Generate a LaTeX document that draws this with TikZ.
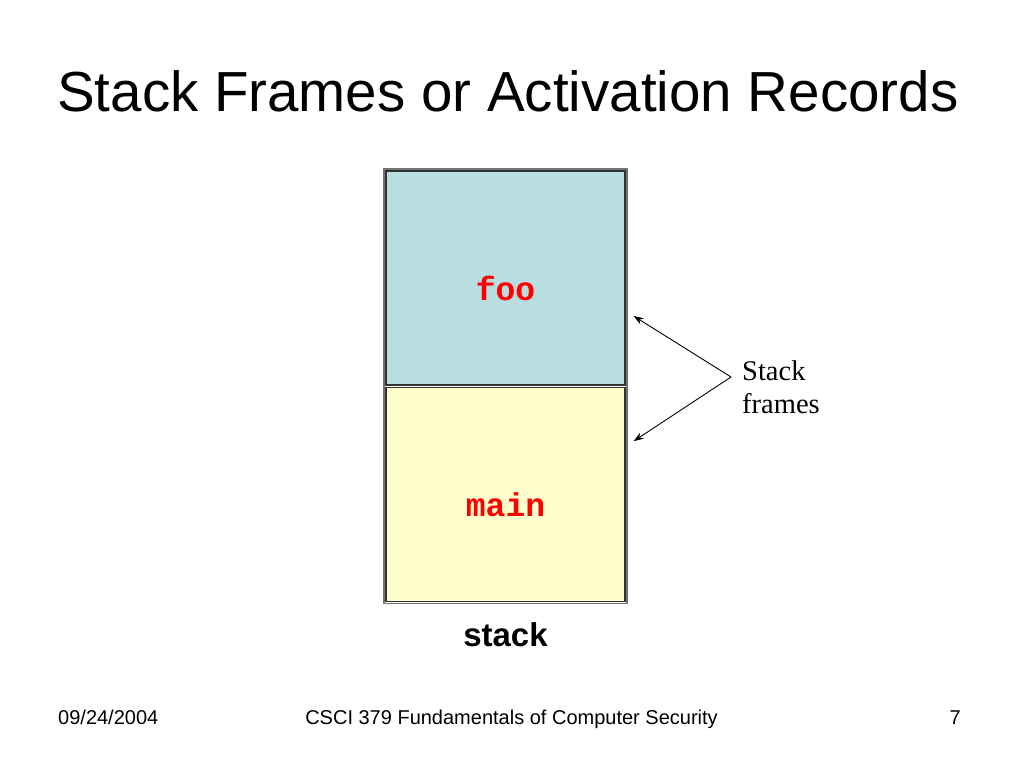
\documentclass[tikz,border=0pt]{standalone}
\usepackage{fontspec}
\setmainfont{Liberation Sans}
\setmonofont{Liberation Mono}
\newfontfamily\timesface{Liberation Serif}
\usetikzlibrary{positioning, arrows.meta, fit, calc}
\definecolor{fooblue}{RGB}{184,222,226}
\definecolor{mainyellow}{RGB}{255,255,206}
\tikzset{
    frame/.style={draw=black!80, line width=1.2pt, minimum width=239pt, minimum height=214pt, inner sep=0pt},
    framename/.style={text=red, font=\ttfamily\bfseries\fontsize{33}{36}\selectfont},
    pointer/.style={-{Stealth[length=10pt, width=7pt]}, line width=0.9pt},
}
\begin{document}
\begin{tikzpicture}[x=1pt, y=-1pt]
    \useasboundingbox (0,0) rectangle (1024,768);

    \node[anchor=base west, inner sep=0pt, font=\fontsize{56.5}{64}\selectfont] (title) at (57,111) {Stack Frames or Activation Records};

    \node[frame, fill=fooblue] (foo) at (505.5,278) {};
    \node[frame, fill=mainyellow, below=1pt of foo] (main) {};
    \node[draw=black!55, line width=1.5pt, inner sep=1.6pt, fit=(foo) (main)] (stack) {};
    \node[framename] at ([yshift=-10pt]foo.center) {foo};
    \node[framename] at ([yshift=-10pt]main.center) {main};

    \node[anchor=base, inner sep=0pt, font=\bfseries\fontsize{33}{36}\selectfont] (stacklabel) at (505.5,646) {stack};

    % arrows to the frames
    \coordinate (apex) at (731,377);
    \coordinate (fooarr) at ([xshift=8pt, yshift=-38pt]foo.east);
    \coordinate (mainarr) at ([xshift=8pt, yshift=53pt]main.east);
    \draw[pointer] (apex) -- (fooarr);
    \draw[pointer] (apex) -- (mainarr);
    \node[anchor=base west, inner sep=0pt, align=left, font=\timesface\fontsize{28.5}{33}\selectfont] (frames) at (742,413) {Stack\\frames};

    \node[anchor=base west, inner sep=0pt, font=\fontsize{20}{24}\selectfont] (date) at (58,724) {09/24/2004};
    \node[anchor=base, inner sep=0pt, font=\fontsize{20}{24}\selectfont] (course) at (511.5,724) {CSCI 379 Fundamentals of Computer Security};
    \node[anchor=base east, inner sep=0pt, font=\fontsize{20}{24}\selectfont] (page) at (961,724) {7};
\end{tikzpicture}
\end{document}
